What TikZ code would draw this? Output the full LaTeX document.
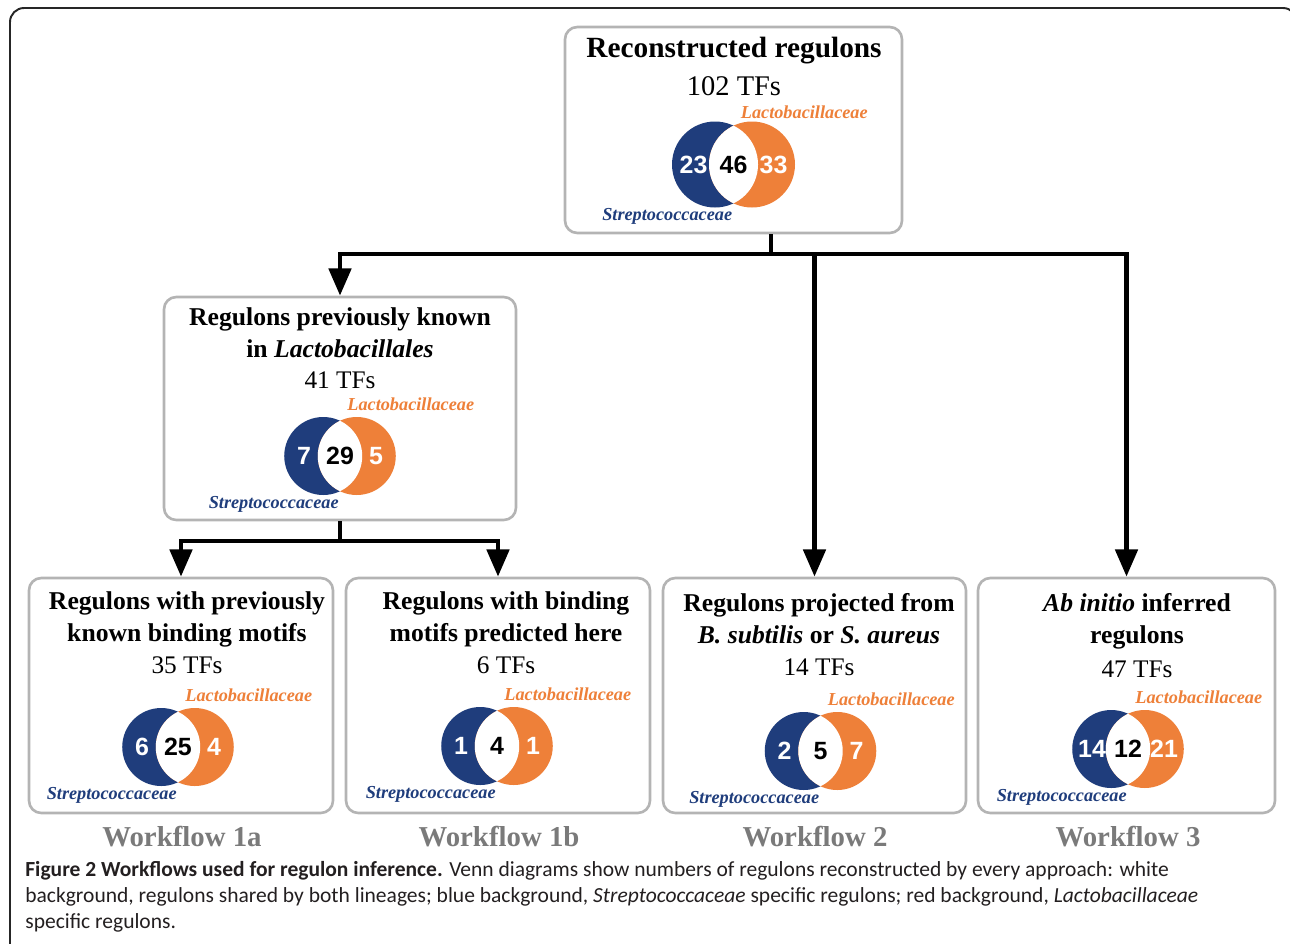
\documentclass[tikz,border=0pt]{standalone}
\usepackage{fontspec}
\setmainfont{Liberation Serif}
\setsansfont{Liberation Sans}
\newfontfamily\capfont{Carlito}
\usetikzlibrary{arrows.meta,positioning}
\definecolor{strepblue}{HTML}{1F3D7C}
\definecolor{lactoorange}{HTML}{EE8039}
\definecolor{panelgray}{HTML}{B4B4B4}
\definecolor{wfgray}{HTML}{7A7A7A}
\definecolor{captext}{HTML}{231F20}
\newlength\pxu
\setlength\pxu{0.02cm}

\tikzset{
  panel/.style={draw=panelgray, line width=1.5pt, rounded corners=7pt, fill=white, inner sep=0pt},
  heading/.style={font=\fontsize{14.6}{18.1}\selectfont\bfseries, align=center, inner sep=0pt, anchor=base},
  bigheading/.style={heading, font=\fontsize{16.7}{18.1}\selectfont\bfseries},
  tfcount/.style={font=\fontsize{14.4}{18}\selectfont, inner sep=0pt, anchor=base},
  bigcount/.style={tfcount, font=\fontsize{16.2}{18}\selectfont},
  vnum/.style={font=\sffamily\bfseries\fontsize{14.2}{16}\selectfont, inner sep=0pt},
  lacto/.style={font=\fontsize{10.4}{12}\selectfont\bfseries\itshape, text=lactoorange, inner sep=0pt, anchor=base west},
  strep/.style={font=\fontsize{10.4}{12}\selectfont\bfseries\itshape, text=strepblue, inner sep=0pt, anchor=base east},
  wflabel/.style={font=\fontsize{16.4}{18}\selectfont\bfseries, text=wfgray, inner sep=0pt, anchor=base},
  flow/.style={line width=2.8pt, -{Triangle[width=12.5pt,length=15.5pt]}},
}

% two-set venn: name, x, y, radius, left, shared, right
\newcommand\vennpair[7]{%
  \fill[strepblue] ({#2-0.43*#4},#3) circle[radius=#4\pxu];
  \fill[lactoorange] ({#2+0.43*#4},#3) circle[radius=#4\pxu];
  \begin{scope}
    \clip ({#2-0.43*#4},#3) circle[radius=#4\pxu];
    \fill[white] ({#2+0.43*#4},#3) circle[radius=#4\pxu];
  \end{scope}
  \node[vnum, text=white] (#1-l) at ({#2-#4+3},#3) {#5};
  \node[vnum] (#1-m) at (#2,#3) {#6};
  \node[vnum, text=white] (#1-r) at ({#2+#4-3},#3) {#7};
  \node[lacto] (#1-lac) at ({#2+7},{#3-46}) {Lactobacillaceae};
  \node[strep] (#1-str) at ({#2-1},{#3+#4+13}) {Streptococcaceae};
}

\begin{document}
\begin{tikzpicture}[x=0.02cm, y=-0.02cm]
  \useasboundingbox (0,0) rectangle (1290,943);
  \clip (0,0) rectangle (1290,943);
  \draw[line width=1.1pt, draw=black!85, rounded corners=8pt] (10,8) rectangle (1297,990);

  % panels
  \node[panel, minimum width=337\pxu, minimum height=206\pxu] (recon) at (733.5,130) {};
  \node[panel, minimum width=352\pxu, minimum height=223\pxu] (known) at (340,408.5) {};
  \node[panel, minimum width=304\pxu, minimum height=235\pxu] (wfa) at (181,695.5) {};
  \node[panel, minimum width=304\pxu, minimum height=235\pxu] (wfb) at (498,695.5) {};
  \node[panel, minimum width=303\pxu, minimum height=235\pxu] (wfc) at (814.5,695.5) {};
  \node[panel, minimum width=297\pxu, minimum height=235\pxu] (wfd) at (1126.5,695.5) {};

  % texts (base = last line)
  \node[bigheading] (recon-t) at (734,57) {Reconstructed regulons};
  \node[bigcount] (recon-n) at (734,95) {102 TFs};
  \node[heading] (known-t) at (340,357) {Regulons previously known\\in \textit{Lactobacillales}};
  \node[tfcount] (known-n) at (340,388) {41 TFs};
  \node[heading] (wfa-t) at (187,641) {Regulons with previously\\known binding motifs};
  \node[tfcount] (wfa-n) at (187,673) {35 TFs};
  \node[heading] (wfb-t) at (506,641) {Regulons with binding\\motifs predicted here};
  \node[tfcount] (wfb-n) at (506,673) {6 TFs};
  \node[heading] (wfc-t) at (819,643) {Regulons projected from\\\textit{B. subtilis} or \textit{S. aureus}};
  \node[tfcount] (wfc-n) at (819,675) {14 TFs};
  \node[heading] (wfd-t) at (1137,643) {\textit{Ab initio} inferred\\regulons};
  \node[tfcount] (wfd-n) at (1137,677) {47 TFs};

  % venns
  \vennpair{recon}{733.5}{164.5}{43}{23}{46}{33}
  \vennpair{known}{340}{456}{39}{7}{29}{5}
  \vennpair{wfa}{178}{747}{39}{6}{25}{4}
  \vennpair{wfb}{497}{746}{39}{1}{4}{1}
  \vennpair{wfc}{820.5}{751}{39}{2}{5}{7}
  \vennpair{wfd}{1128}{749}{39}{14}{12}{21}

  % workflow names
  \node[wflabel] (wfa-lab) at (182,846) {Workflow 1a};
  \node[wflabel] (wfb-lab) at (499,846) {Workflow 1b};
  \node[wflabel] (wfc-lab) at (815,846) {Workflow 2};
  \node[wflabel] (wfd-lab) at (1128,846) {Workflow 3};

  % arrows
  \coordinate (hub) at (771,254);
  \coordinate (hub2) at (340,541);
  \draw[flow] (recon.south -| hub) -- (hub) -| (known.north);
  \draw[flow] (hub) -| (wfc.north);
  \draw[flow] (hub) -| (wfd.north);
  \draw[flow] (known.south) -- (hub2) -| (wfa.north);
  \draw[flow] (hub2) -| (wfb.north);

  % caption
  \node[font=\capfont\fontsize{12.25}{14.7}\selectfont, text=captext, align=left, inner sep=0pt, anchor=base west] (caption) at (25,928)
    {\textbf{Figure 2 Workflows used for regulon inference.} Venn diagrams show numbers of regulons reconstructed by every approach: white\\
     background, regulons shared by both lineages; blue background, \textit{Streptococcaceae} specific regulons; red background, \textit{Lactobacillaceae}\\
     specific regulons.};
\end{tikzpicture}
\end{document}
